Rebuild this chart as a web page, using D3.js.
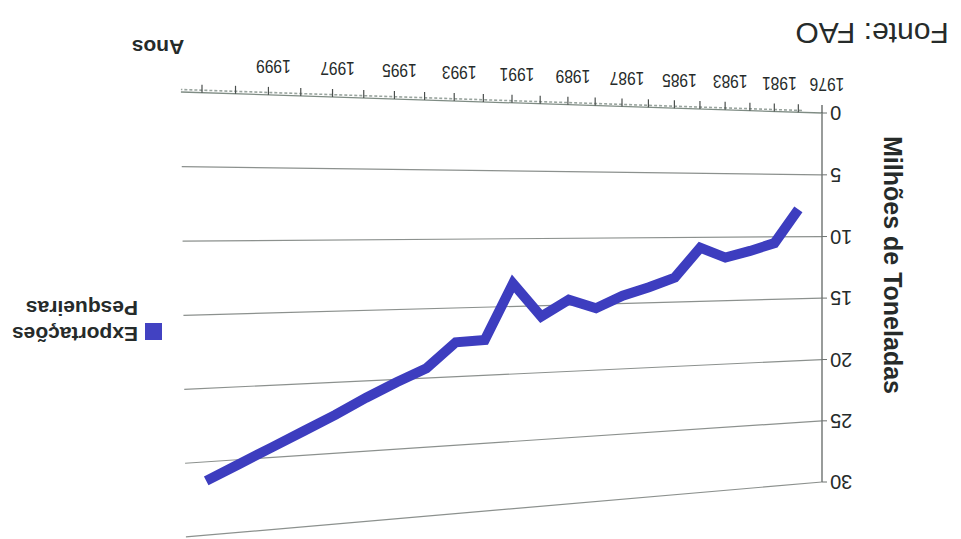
<!DOCTYPE html>
<html>
<head>
<meta charset="utf-8">
<script src="https://cdn.jsdelivr.net/npm/d3@7"></script>
<style>
body { margin: 0; background: #fff; }
text { font-family: Arial, "Liberation Sans", sans-serif; fill: #262b2a; }
</style>
</head>
<body>
<div id="chart"></div>
<script>
const categories = ["1976", "1980", "1981", "1982", "1983", "1984", "1985", "1986", "1987", "1988", "1989", "1990",
    "1991", "1992", "1993", "1994", "1995", "1996", "1997", "1998", "1999", "2000", "2001"];
const exportacoes = [null, 7.8, 10.5, 11.1, 11.6, 10.8, 13.1, 13.8, 14.4, 15.3, 14.6, 15.8,
    13.3, 17.4, 17.5, 19.3, 20.2, 21.2, 22.3, 23.3, 24.3, 25.3, 26.3];
const tickLabels = ["1976", "1981", "1983", "1985", "1987", "1989", "1991", "1993", "1995", "1997", "1999"];
const yTicks = [0, 5, 10, 15, 20, 25, 30];
const legendLines = ["Exportações", "Pesqueiras"];

const width = 961;
const height = 539;

const svg = d3.select("#chart")
    .append("svg")
    .attr("width", width)
    .attr("height", height);

// flat upright chart, then projected onto the tilted, upside-down page
const x = d3.scalePoint().domain(categories).range([0, 620]);
const y = d3.scaleLinear().domain([0, 30]).range([0, 369]);
const xEnd = 620 + 0.62 * x.step();

const src = [[0, 0], [0, 369], [620, 0], [620, 369]];
const dst = [[822, 113], [822, 482], [202, 92.7], [206.8, 535.1]];

function homography(src, dst) {
    const A = [], b = [];
    src.forEach(([u, v], i) => {
        const [X, Y] = dst[i];
        A.push([u, v, 1, 0, 0, 0, -u * X, -v * X]); b.push(X);
        A.push([0, 0, 0, u, v, 1, -u * Y, -v * Y]); b.push(Y);
    });
    for (let c = 0; c < 8; c++) {
        let p = c;
        for (let r = c + 1; r < 8; r++) if (Math.abs(A[r][c]) > Math.abs(A[p][c])) p = r;
        [A[c], A[p]] = [A[p], A[c]];
        [b[c], b[p]] = [b[p], b[c]];
        for (let r = 0; r < 8; r++) {
            if (r === c) continue;
            const f = A[r][c] / A[c][c];
            for (let k = c; k < 8; k++) A[r][k] -= f * A[c][k];
            b[r] -= f * b[c];
        }
    }
    const h = b.map((v, i) => v / A[i][i]);
    return (u, v) => {
        const w = h[6] * u + h[7] * v + 1;
        return [(h[0] * u + h[1] * v + h[2]) / w, (h[3] * u + h[4] * v + h[5]) / w];
    };
}
const proj = homography(src, dst);

// gridlines
yTicks.filter(v => v > 0).forEach(v => {
    const a = proj(0, y(v)), b = proj(xEnd, y(v));
    svg.append("line")
        .attr("x1", a[0]).attr("y1", a[1])
        .attr("x2", b[0]).attr("y2", b[1])
        .attr("stroke", "#8c918e")
        .attr("stroke-width", 1.2);
});

// value axis
const ya = proj(0, y(0)), yb = proj(0, y(30));
svg.append("line")
    .attr("x1", ya[0]).attr("y1", ya[1])
    .attr("x2", yb[0]).attr("y2", yb[1])
    .attr("stroke", "#6d7270")
    .attr("stroke-width", 1.4);

yTicks.forEach(v => {
    const p = proj(0, y(v));
    svg.append("line")
        .attr("x1", p[0]).attr("y1", p[1])
        .attr("x2", p[0] + 5).attr("y2", p[1])
        .attr("stroke", "#6d7270");
    svg.append("text")
        .attr("transform", "translate(" + (p[0] + 8) + "," + p[1] + ") rotate(180)")
        .attr("text-anchor", "end")
        .attr("dy", "0.35em")
        .style("font-size", "20px")
        .text(v);
});

// category axis (3d floor edge)
const xa = proj(0, 0), xb = proj(xEnd, 0);
svg.append("line")
    .attr("x1", xa[0]).attr("y1", xa[1])
    .attr("x2", xb[0]).attr("y2", xb[1])
    .attr("stroke", "#7f8c84")
    .attr("stroke-width", 1.3);
svg.append("line")
    .attr("x1", xa[0] - 20).attr("y1", xa[1] - 2.5)
    .attr("x2", xb[0]).attr("y2", xb[1] - 2.5)
    .attr("stroke", "#9aa59f")
    .attr("stroke-width", 1.6)
    .attr("stroke-dasharray", "3,2");

categories.forEach(c => {
    const p = proj(x(c), 0);
    svg.append("line")
        .attr("x1", p[0]).attr("y1", p[1])
        .attr("x2", p[0]).attr("y2", p[1] - 8)
        .attr("stroke", "#4a4f4d")
        .attr("stroke-width", 1.2);
});

tickLabels.forEach(c => {
    const p = proj(x(c), 0);
    svg.append("text")
        .attr("transform", "translate(" + (p[0] + 5) + "," + (p[1] - 28) + ") rotate(180) scale(0.82,1)")
        .attr("text-anchor", "middle")
        .attr("dy", "0.35em")
        .style("font-size", "19px")
        .text(c);
});

// series
const series = categories.map((c, i) => ({ c: c, v: exportacoes[i] }));
const line = d3.line()
    .defined(d => d.v != null)
    .x(d => proj(x(d.c), y(d.v))[0])
    .y(d => proj(x(d.c), y(d.v))[1]);

svg.append("path")
    .datum(series)
    .attr("d", line)
    .attr("fill", "none")
    .attr("stroke", "#3d3dbf")
    .attr("stroke-width", 10)
    .attr("stroke-linejoin", "miter")
    .attr("stroke-linecap", "butt");

// titles (page is upside down)
svg.append("text")
    .attr("transform", "translate(893,265) rotate(90)")
    .attr("text-anchor", "middle")
    .attr("dy", "0.35em")
    .style("font-size", "25px")
    .style("font-weight", "bold")
    .text("Milhões de Toneladas");

svg.append("text")
    .attr("transform", "translate(158,47) rotate(180)")
    .attr("text-anchor", "middle")
    .attr("dy", "0.35em")
    .style("font-size", "21px")
    .style("font-weight", "bold")
    .text("Anos");

svg.append("text")
    .attr("transform", "translate(872,33) rotate(180)")
    .attr("text-anchor", "middle")
    .attr("dy", "0.35em")
    .style("font-size", "30px")
    .text("Fonte: FAO");

// legend
svg.append("rect")
    .attr("x", 145).attr("y", 323)
    .attr("width", 17).attr("height", 17)
    .attr("fill", "#4242c2");

svg.selectAll(".legend-text")
    .data(legendLines)
    .enter()
    .append("text")
    .attr("class", "legend-text")
    .attr("transform", (d, i) => "translate(138," + (327 - i * 26) + ") rotate(180)")
    .style("font-size", "21px")
    .style("font-weight", "bold")
    .text(d => d);
</script>
</body>
</html>
